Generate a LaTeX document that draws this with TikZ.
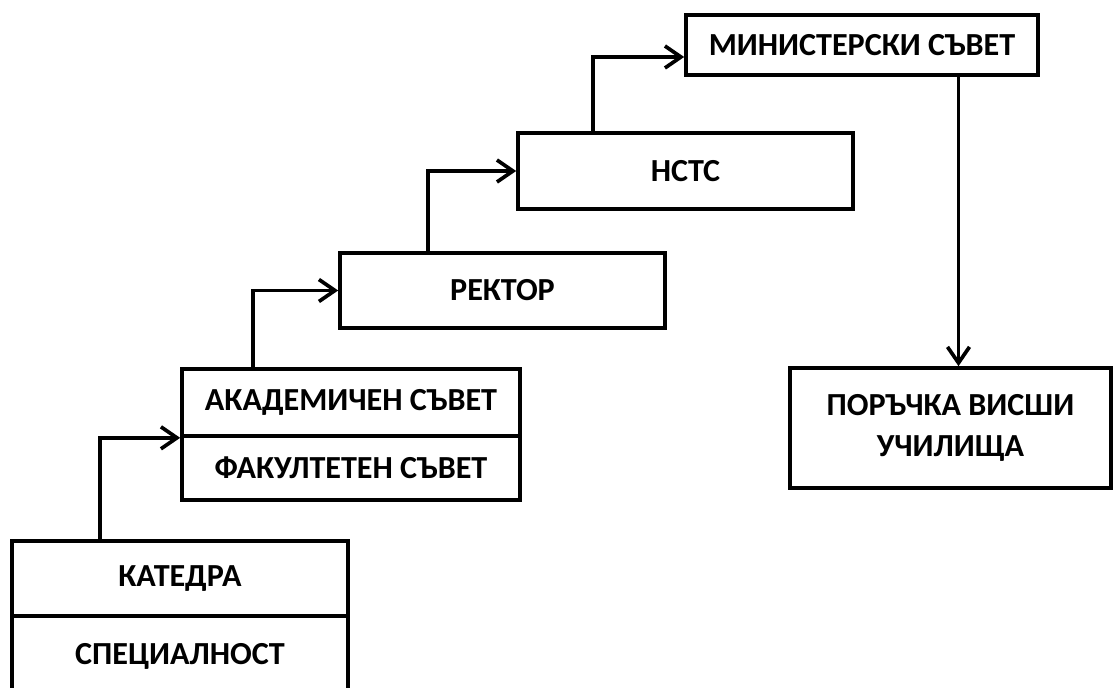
\documentclass[tikz,border=0pt]{standalone}
\usepackage{fontspec}
\setmainfont{Carlito}
\usetikzlibrary{arrows.meta}
\tikzset{
    box/.style={draw, line width=2.1pt, inner sep=0pt, align=center,
        font=\fontsize{18.3}{23.5}\selectfont\bfseries},
    conn/.style={line width=2.1pt, -{Straight Barb[length=3.2mm, width=4.4mm, line width=2.1pt]}}
}
\begin{document}
\begin{tikzpicture}[x=0.02cm, y=-0.02cm]
                \path[use as bounding box, clip] (0,0) rectangle (1113,688);

                %Nodes
                \node[box, minimum width=6.72cm, minimum height=1.5cm] at (180,578.5) (kat) {КАТЕДРА};
                \node[box, minimum width=6.72cm, minimum height=1.6cm] at (180,656) (spec) {СПЕЦИАЛНОСТ};
                \node[box, minimum width=6.76cm, minimum height=1.34cm] at (351,402.5) (akad) {АКАДЕМИЧЕН СЪВЕТ};
                \node[box, minimum width=6.76cm, minimum height=1.28cm] at (351,468) (fak) {ФАКУЛТЕТЕН СЪВЕТ};
                \node[box, minimum width=6.5cm, minimum height=1.5cm] at (502.5,290.5) (rek) {РЕКТОР};
                \node[box, minimum width=6.7cm, minimum height=1.52cm] at (685.5,171) (nstc) {НСТС};
                \node[box, minimum width=7.04cm, minimum height=1.2cm] at (862,45) (min) {МИНИСТЕРСКИ СЪВЕТ};
                \node[box, minimum width=6.42cm, minimum height=2.4cm] at (950.5,428) (por) {ПОРЪЧКА ВИСШИ\\УЧИЛИЩА};

                %Lines
                \draw[conn] ([xshift=1.8cm]kat.north west) |- (akad.south west);
                \draw[conn] ([xshift=1.46cm]akad.north west) |- (rek.west);
                \draw[conn] ([xshift=1.8cm]rek.north west) |- (nstc.west);
                \draw[conn] ([xshift=1.54cm]nstc.north west) |- ([yshift=-0.24cm]min.west);
                \draw[conn] ([xshift=0.16cm]por.north |- min.south) -- ([xshift=0.16cm]por.north);
            \end{tikzpicture}
\end{document}
